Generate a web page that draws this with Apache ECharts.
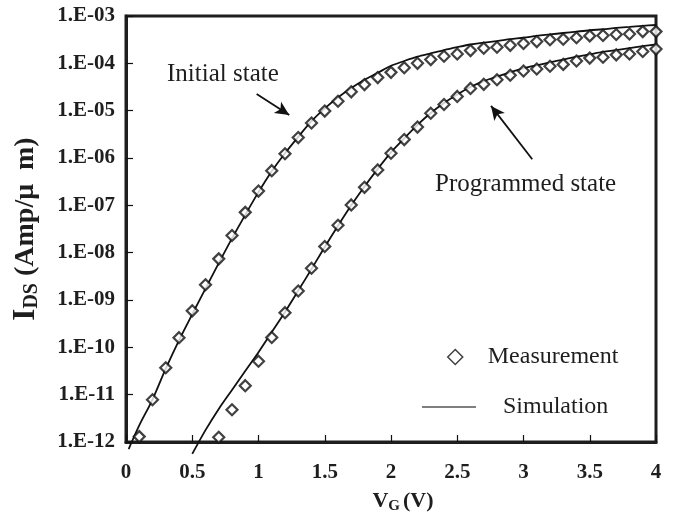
<!DOCTYPE html>
<html><head><meta charset="utf-8">
<script src="https://cdn.jsdelivr.net/npm/echarts@6/dist/echarts.min.js"></script>
<style>html,body{margin:0;padding:0;background:#fff}#c{width:675px;height:525px}</style>
</head><body><div id="c"></div>
<script>
// Measurement, initial state
const initMeasX = [0.1,0.2,0.3,0.4,0.5,0.6,0.7,0.8,0.9,1.0,1.1,1.2,1.3,1.4,1.5,1.6,1.7,1.8,1.9,2.0,
  2.1,2.2,2.3,2.4,2.5,2.6,2.7,2.8,2.9,3.0,3.1,3.2,3.3,3.4,3.5,3.6,3.7,3.8,3.9,4.0];
const initMeasY = [1.3e-12,7.8e-12,3.7e-11,1.6e-10,5.9e-10,2.1e-9,7.4e-9,2.3e-8,7.1e-8,2.0e-7,
  5.4e-7,1.23e-6,2.7e-6,5.5e-6,9.8e-6,1.58e-5,2.5e-5,3.55e-5,5.0e-5,6.45e-5,
  8.1e-5,1.0e-4,1.2e-4,1.41e-4,1.58e-4,1.86e-4,2.09e-4,2.19e-4,2.4e-4,2.63e-4,
  2.88e-4,3.16e-4,3.24e-4,3.47e-4,3.8e-4,3.89e-4,4.07e-4,4.17e-4,4.68e-4,4.68e-4];
// Measurement, programmed state
const progMeasX = [0.7,0.8,0.9,1.0,1.1,1.2,1.3,1.4,1.5,1.6,1.7,1.8,1.9,2.0,2.1,2.2,2.3,2.4,2.5,2.6,
  2.7,2.8,2.9,3.0,3.1,3.2,3.3,3.4,3.5,3.6,3.7,3.8,3.9,4.0];
const progMeasY = [1.26e-12,4.8e-12,1.55e-11,5.1e-11,1.62e-10,5.4e-10,1.55e-9,4.7e-9,1.35e-8,3.8e-8,
  1.02e-7,2.4e-7,5.6e-7,1.26e-6,2.45e-6,4.5e-6,8.8e-6,1.35e-5,2.0e-5,2.95e-5,
  3.6e-5,4.5e-5,5.6e-5,6.9e-5,7.6e-5,8.7e-5,9.5e-5,1.12e-4,1.29e-4,1.35e-4,
  1.51e-4,1.58e-4,1.78e-4,2.0e-4];
// Simulation, initial state
const initSimX = [0.02,0.1,0.2,0.3,0.4,0.5,0.6,0.7,0.8,0.9,1.0,1.1,1.2,1.3,1.4,1.5,1.6,1.7,1.8,1.9,2.0,
  2.1,2.2,2.3,2.4,2.5,2.6,2.7,2.8,2.9,3.0,3.1,3.2,3.3,3.4,3.5,3.6,3.7,3.8,3.9,4.0];
const initSimY = [7.1e-13,2.24e-12,7.9e-12,3.55e-11,1.41e-10,5.0e-10,1.74e-9,6.0e-9,2.0e-8,6.3e-8,1.9e-7,
  5.25e-7,1.26e-6,2.8e-6,6.0e-6,1.12e-5,1.9e-5,3.0e-5,4.5e-5,6.3e-5,8.9e-5,
  1.12e-4,1.38e-4,1.62e-4,1.9e-4,2.19e-4,2.5e-4,2.75e-4,2.95e-4,3.24e-4,3.47e-4,
  3.8e-4,4.07e-4,4.37e-4,4.68e-4,5.0e-4,5.25e-4,5.6e-4,5.9e-4,6.2e-4,6.45e-4];
// Simulation, programmed state
const progSimX = [0.5,0.6,0.7,0.8,0.9,1.0,1.1,1.2,1.3,1.4,1.5,1.6,1.7,1.8,1.9,2.0,2.1,2.2,2.3,2.4,2.5,
  2.6,2.7,2.8,2.9,3.0,3.1,3.2,3.3,3.4,3.5,3.6,3.7,3.8,3.9,4.0];
const progSimY = [5.6e-13,1.78e-12,5.0e-12,1.26e-11,3.16e-11,7.9e-11,2.1e-10,5.6e-10,1.58e-9,4.5e-9,1.32e-8,
  3.7e-8,1.0e-7,2.5e-7,5.9e-7,1.32e-6,2.6e-6,5.0e-6,8.9e-6,1.45e-5,2.2e-5,
  3.16e-5,4.2e-5,5.25e-5,6.45e-5,7.8e-5,9.1e-5,1.05e-4,1.2e-4,1.38e-4,1.55e-4,
  1.74e-4,1.9e-4,2.1e-4,2.3e-4,2.5e-4];
// Annotation arrows (data coords: start, end)
const initArrow = [[0.986,2.25e-5],[1.232,8.1e-6]];
const progArrow = [[3.066,9.4e-7],[2.755,1.26e-5]];

const zip = (xs, ys) => xs.map((x,i)=>[x, ys[i]]);
const SERIF = '"Liberation Serif","Times New Roman",serif';
const INK = '#111';

const chart = echarts.init(document.getElementById('c'), null, {renderer:'canvas'});
const arrowML = (a) => ({
  silent: true, symbol: ['none','arrow'], symbolSize: [10,14],
  label: {show:false}, lineStyle: {color: INK, width: 1.8, type: 'solid'},
  data: [[{coord: a[0]}, {coord: a[1]}]]
});
const measStyle = {color:'#fff', borderColor: INK, borderWidth: 2.2};
chart.setOption({
  animation: false,
  grid: {left: 126, right: 19, top: 16, bottom: 83, show: true, borderColor: '#1e1e1e', borderWidth: 3},
  xAxis: {
    type: 'value', min: 0, max: 4, interval: 0.5,
    axisLine: {show: true, lineStyle: {color: '#1e1e1e', width: 3}},
    axisTick: {show: true, inside: true, length: 7, lineStyle: {color: INK, width: 1.2}},
    axisLabel: {fontFamily: SERIF, fontWeight: 'bold', fontSize: 21, color: '#1e1e1e', margin: 20},
    splitLine: {show: false},
    name: '{v|V}{s|G}{v|(V)}', nameLocation: 'middle', nameGap: 46,
    nameTextStyle: {padding: [0,0,0,24], rich: {
      v: {fontFamily: SERIF, fontWeight: 'bold', fontSize: 22, color: '#1e1e1e', lineHeight: 26, verticalAlign: 'middle'},
      s: {fontFamily: SERIF, fontWeight: 'bold', fontSize: 15, color: '#1e1e1e', lineHeight: 15, verticalAlign: 'bottom', padding: [0,3,0,0]}
    }}
  },
  yAxis: {
    type: 'log', logBase: 10, min: 1e-12, max: 1e-3, splitNumber: 9,
    axisLine: {show: true, lineStyle: {color: '#1e1e1e', width: 3}},
    axisTick: {show: true, inside: true, length: 7, lineStyle: {color: INK, width: 1.2}},
    axisLabel: {fontFamily: SERIF, fontWeight: 'bold', fontSize: 21, color: '#1e1e1e', margin: 11,
      formatter: v => { const e = Math.round(Math.log10(v)); const a = Math.abs(e);
        return '1.E' + (e < 0 ? '-' : '+') + (a < 10 ? '0' + a : a); }},
    splitLine: {show: false},
    name: '{i|I}{s|DS}{t| (Amp/μ  m)}', nameLocation: 'middle', nameGap: 84,
    nameTextStyle: {rich: {
      i: {fontFamily: SERIF, fontWeight: 'bold', fontSize: 31, color: '#1e1e1e', lineHeight: 32, verticalAlign: 'middle'},
      s: {fontFamily: SERIF, fontWeight: 'bold', fontSize: 20, color: '#1e1e1e', lineHeight: 20, verticalAlign: 'bottom'},
      t: {fontFamily: SERIF, fontWeight: 'bold', fontSize: 28, color: '#1e1e1e', lineHeight: 32, verticalAlign: 'middle'}
    }}
  },
  legend: [
    {data: ['Measurement'], left: 447, top: 345, padding: 0, itemWidth: 15, itemHeight: 15,
      itemStyle: {color: '#fff', borderColor: INK, borderWidth: 1.5},
      textStyle: {fontFamily: SERIF, fontSize: 24, color: '#1e1e1e', padding: [0,0,0,20]}, selectedMode: false},
    {data: ['Simulation'], left: 422, top: 395, padding: 0, itemWidth: 54, itemHeight: 1.6, icon: 'rect',
      itemStyle: {color: '#555', borderWidth: 0},
      textStyle: {fontFamily: SERIF, fontSize: 24, color: '#1e1e1e', padding: [0,0,0,22]}, selectedMode: false}
  ],
  graphic: [
    {type: 'text', style: {x: 167, y: 74, text: 'Initial state', font: '25px ' + SERIF, fill: '#1e1e1e', verticalAlign: 'middle'}},
    {type: 'text', style: {x: 435, y: 184, text: 'Programmed state', font: '25px ' + SERIF, fill: '#1e1e1e', verticalAlign: 'middle'}}
  ],
  series: [
    {name: 'Simulation', type: 'line', data: zip(initSimX, initSimY), symbol: 'none', smooth: 0.3, clip: false,
      lineStyle: {color: INK, width: 1.8}, itemStyle: {color: INK}, z: 2, markLine: arrowML(initArrow)},
    {name: 'Simulation', type: 'line', data: zip(progSimX, progSimY), symbol: 'none', smooth: 0.3, clip: false,
      lineStyle: {color: INK, width: 1.8}, itemStyle: {color: INK}, z: 2, markLine: arrowML(progArrow)},
    {name: 'Measurement', type: 'scatter', data: zip(initMeasX, initMeasY), symbol: 'diamond', symbolSize: 11,
      itemStyle: measStyle, z: 3},
    {name: 'Measurement', type: 'scatter', data: zip(progMeasX, progMeasY), symbol: 'diamond', symbolSize: 11,
      itemStyle: measStyle, z: 3}
  ]
});
</script></body></html>
